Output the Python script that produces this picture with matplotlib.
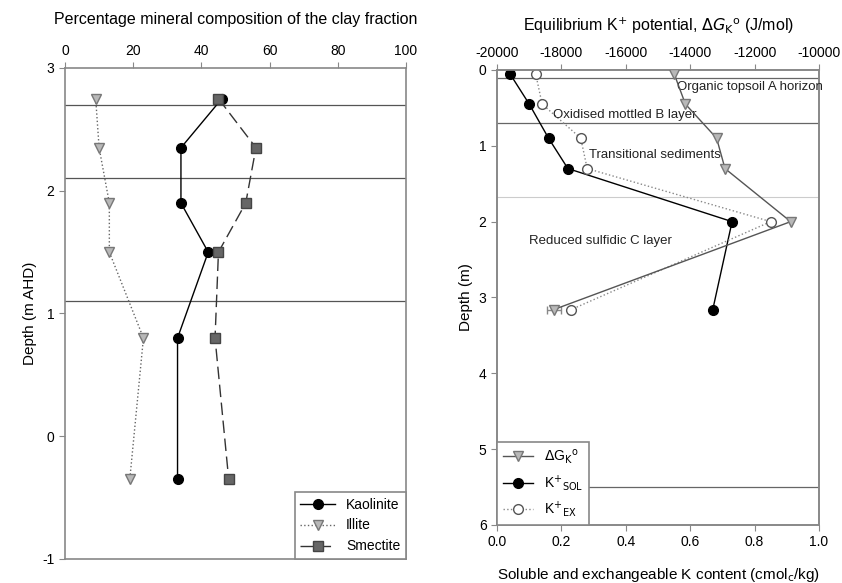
import numpy as np
import matplotlib
matplotlib.use("Agg")
import matplotlib.pyplot as plt
from matplotlib.lines import Line2D

plt.rcParams['font.family'] = ['Liberation Sans', 'DejaVu Sans']
plt.rcParams['font.size'] = 10
plt.rcParams['axes.unicode_minus'] = False

# left panel: clay mineralogy vs elevation (m AHD)
elev = [2.75, 2.35, 1.90, 1.50, 0.80, -0.35]
kaolinite = [46, 34, 34, 42, 33, 33]
illite = [9, 10, 13, 13, 23, 19]
smectite = [45, 56, 53, 45, 44, 48]
left_bounds = [2.70, 2.10, 1.10]

# right panel: K potential and K content vs depth (m)
depth = [0.05, 0.45, 0.90, 1.30, 2.00, 3.16]
dG = [-14500, -14150, -13180, -12920, -10880, -18240]
dG_err = [0, 0, 0, 0, 0, 220]
k_sol = [0.04, 0.10, 0.16, 0.22, 0.73, 0.67]
k_ex = [0.12, 0.14, 0.26, 0.28, 0.85, 0.23]
right_bounds = [0.10, 0.70, 5.50]
faint_bound = 1.68
layer_names = ["Organic topsoil A horizon", "Oxidised mottled B layer",
               "Transitional sediments", "Reduced sulfidic C layer"]
layer_pos = [(-14400, 0.22), (-18260, 0.59), (-17150, 1.12), (-19000, 2.25)]

spine_c = '#888888'
fig = plt.figure(figsize=(8.42, 5.83), dpi=100)

# ---- left
ax = fig.add_axes([0.0772, 0.0412, 0.405, 0.8422])
for b in left_bounds:
    ax.axhline(b, color='#555555', lw=0.9, zorder=1)
ax.plot(kaolinite, elev, '-', color='black', marker='o', ms=7, lw=1,
        label='Kaolinite', zorder=3)
ax.plot(illite, elev, ':', color='#666666', marker='v', ms=7, lw=1,
        mfc='#b8b8b8', mec='#777777', label='Illite', zorder=3)
ax.plot(smectite, elev, color='#333333', ls=(0, (9, 4)), marker='s', ms=6.5, lw=1,
        mfc='#666666', mec='#444444', label='Smectite', zorder=3)
ax.set_xlim(0, 100)
ax.set_ylim(-1, 3)
ax.set_yticks([-1, 0, 1, 2, 3])
ax.set_xticks([0, 20, 40, 60, 80, 100])
ax.xaxis.tick_top()
ax.tick_params(axis='x', which='both', top=True, bottom=False, direction='out',
               color=spine_c, length=4)
ax.tick_params(axis='y', direction='out', color=spine_c, length=4)
for s in ax.spines.values():
    s.set_color(spine_c)
    s.set_linewidth(1.2)
ax.set_ylabel('Depth (m AHD)', fontsize=11)
ax.set_title('Percentage mineral composition of the clay fraction', fontsize=11.5, pad=32)
leg = ax.legend(loc='lower right', fancybox=False, framealpha=1, edgecolor=spine_c,
                borderaxespad=0, fontsize=10, handlelength=2.5)
leg.get_frame().set_linewidth(1.2)

# ---- right
ax2 = fig.add_axes([0.5903, 0.0995, 0.3824, 0.7805])
ax3 = ax2.twiny()
for b in right_bounds:
    ax2.axhline(b, color='#666666', lw=0.9, zorder=1)
ax2.axhline(faint_bound, color='#cccccc', lw=0.8, zorder=1)
l1 = ax2.plot(k_sol, depth, '-', color='black', marker='o', ms=7, lw=1, zorder=3)
l2 = ax2.plot(k_ex, depth, ':', color='#888888', marker='o', ms=7, lw=1,
              mfc='white', mec='#555555', zorder=3)
ax3.errorbar(dG, depth, xerr=dG_err, fmt='-', color='#555555', marker='v', ms=7,
             lw=1, mfc='#b8b8b8', mec='#777777', ecolor='#888888', capsize=3, zorder=3)
for name, (xv, yv) in zip(layer_names, layer_pos):
    ax3.text(xv, yv, name, fontsize=9.5, color='#222222', va='center')
ax2.set_xlim(0, 1)
ax2.set_ylim(6, 0)
ax3.set_xlim(-20000, -10000)
ax2.set_xticks(np.linspace(0, 1, 6))
ax2.set_xticklabels(['0.0', '0.2', '0.4', '0.6', '0.8', '1.0'])
ax3.set_xticks([-20000, -18000, -16000, -14000, -12000, -10000])
ax2.set_yticks(range(7))
for a in (ax2, ax3):
    a.tick_params(direction='out', color=spine_c, length=4)
    for s in a.spines.values():
        s.set_color(spine_c)
        s.set_linewidth(1.2)
ax2.set_ylabel('Depth (m)', fontsize=11)
ax2.set_xlabel('Soluble and exchangeable K content (cmol$_{\\mathrm{c}}$/kg)',
               fontsize=11, labelpad=12)
ax3.set_title('Equilibrium K$^{+}$ potential, $\\Delta G_{\\mathrm{K}}$$^{\\mathrm{o}}$ (J/mol)',
              fontsize=11.5, pad=28)
handles = [
    Line2D([], [], color='#555555', marker='v', ms=7, lw=1, mfc='#b8b8b8', mec='#777777'),
    Line2D([], [], color='black', marker='o', ms=7, lw=1),
    Line2D([], [], color='#888888', ls=':', marker='o', ms=7, lw=1, mfc='white', mec='#555555'),
]
labels = ['$\\Delta$G$_{\\mathrm{K}}$$^{\\mathrm{o}}$',
          'K$^{+}$$_{\\mathrm{SOL}}$', 'K$^{+}$$_{\\mathrm{EX}}$']
leg2 = ax3.legend(handles, labels, loc='lower left', fancybox=False, framealpha=1,
                  edgecolor=spine_c, borderaxespad=0, fontsize=10, handlelength=2.2)
leg2.get_frame().set_linewidth(1.2)

fig.savefig('out.png', dpi=100)
